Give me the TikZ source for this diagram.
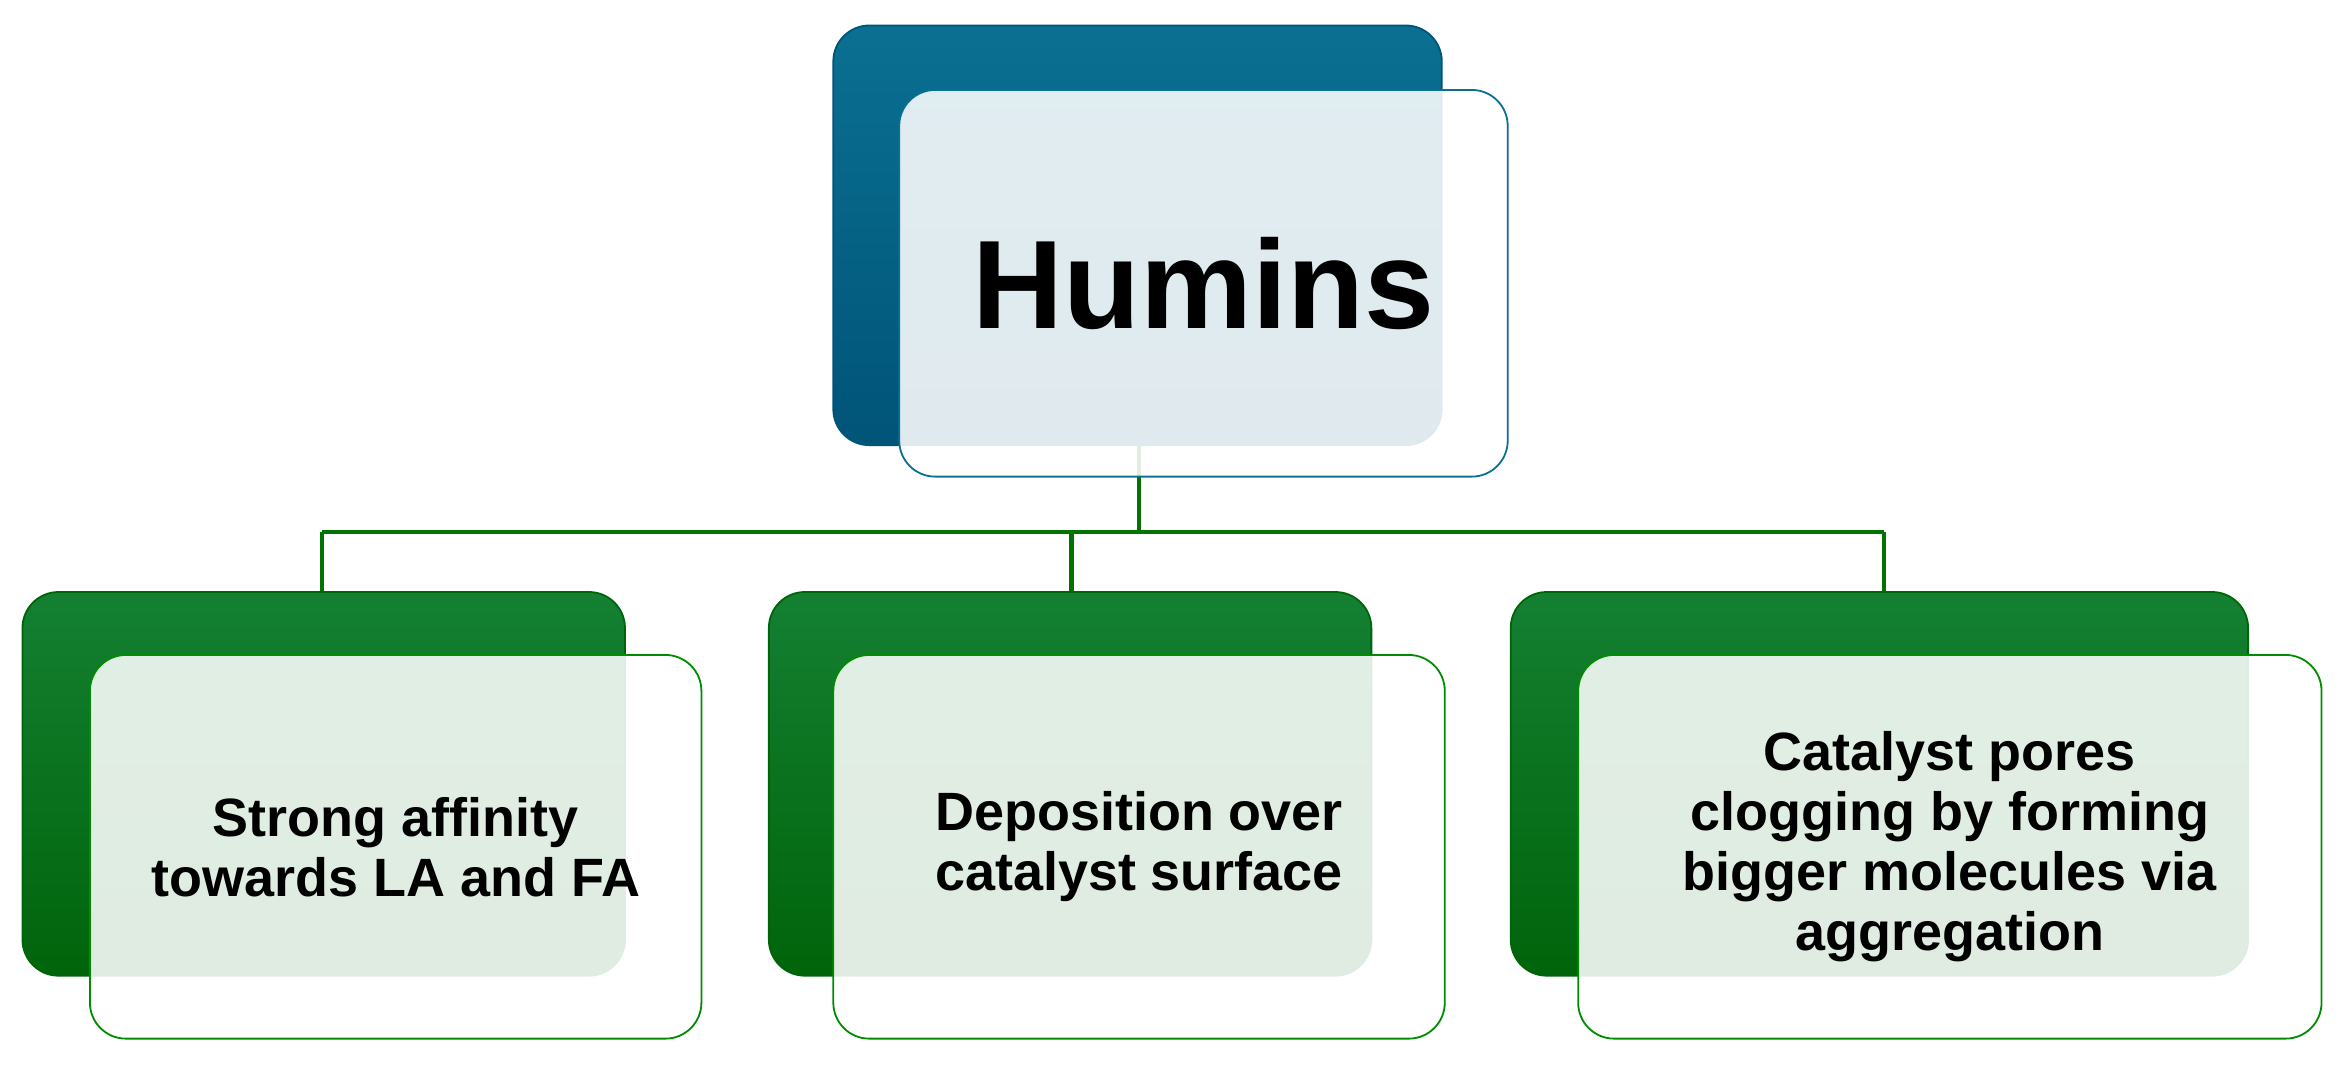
\documentclass[tikz,border=0pt]{standalone}
\usepackage{fontspec}
\setmainfont{Liberation Sans}
\usetikzlibrary{positioning}

\definecolor{humblue}{RGB}{10,112,146}
\definecolor{humblued}{RGB}{0,84,120}
\definecolor{boxgreen}{RGB}{20,128,50}
\definecolor{boxgreend}{RGB}{0,100,10}

\begin{document}
\begin{tikzpicture}[x=0.5pt, y=-0.5pt,
  backblue/.style={rectangle, rounded corners=12pt, top color=humblue, bottom color=humblued, draw=humblued, line width=0.6pt, minimum width=203pt, minimum height=140pt},
  backgreen/.style={rectangle, rounded corners=12pt, top color=boxgreen, bottom color=boxgreend, draw=boxgreend, line width=0.6pt, minimum width=#1, minimum height=128pt},
  backgreen/.default=201pt,
  fronttop/.style={rectangle, rounded corners=12pt, fill=white, fill opacity=0.88, text opacity=1, draw=humblue, line width=0.6pt, minimum width=203pt, minimum height=129pt, inner sep=0pt, font=\fontsize{42}{44}\selectfont\bfseries},
  frontbox/.style={rectangle, rounded corners=12pt, fill=white, fill opacity=0.88, text opacity=1, draw=green!55!black, line width=0.6pt, minimum width=#1, minimum height=128pt, inner sep=0pt, align=center, font=\fontsize{18}{20}\selectfont\bfseries},
  frontbox/.default=204pt,
  link/.style={draw=green!45!black, line width=1.5pt}]

  \useasboundingbox (0,0) rectangle (1568,714);

  % Back boxes
  \node (topback) [backblue] at (759,157) {};
  \node (backa) [backgreen] at (216,523) {};
  \node (backb) [backgreen] at (714,523) {};
  \node (backc) [backgreen=246pt] at (1254,523) {};

  % Connectors
  \coordinate (hub) at (760,355);
  \coordinate (hubl) at (215,355);
  \coordinate (hubm) at (715,355);
  \coordinate (hubr) at (1257,355);
  \draw [link] (topback.south -| hub) -- (hub);
  \draw [link] (hubl) -- (hubr);
  \draw [link] (hubl) -- (hubl |- backa.north);
  \draw [link] (hubm) -- (hubm |- backb.north);
  \draw [link] (hubr) -- (hubr |- backc.north);

  % Front boxes
  \node (humins) [fronttop] at (803,189) {Humins};
  \node (affinity) [frontbox] at (264,565) {Strong affinity\\towards LA and FA};
  \node (deposition) [frontbox] at (760,565) {Deposition over\\catalyst surface};
  \node (clogging) [frontbox=248pt] at (1301,565) {Catalyst pores\\clogging by forming\\bigger molecules via\\aggregation};
\end{tikzpicture}
\end{document}
